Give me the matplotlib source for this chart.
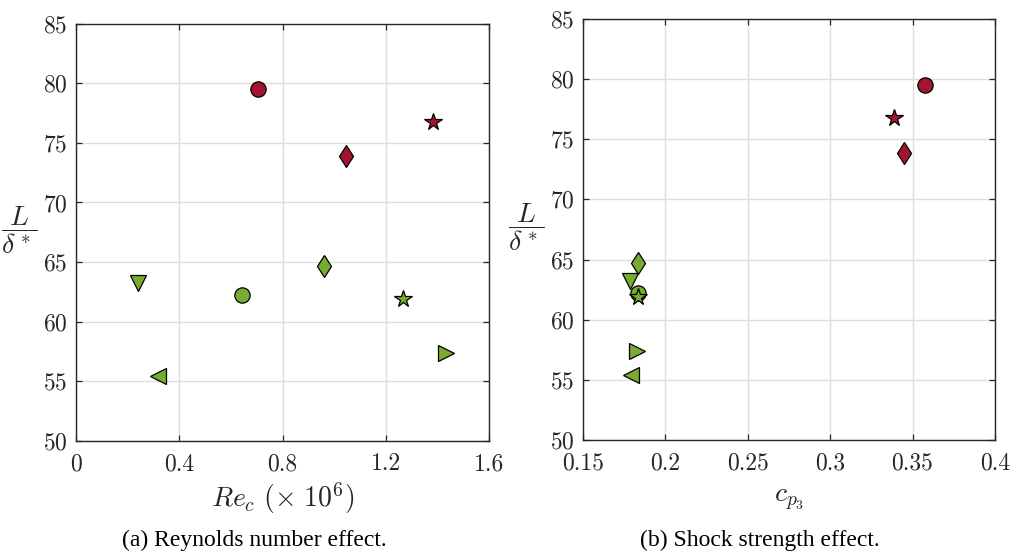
import matplotlib
matplotlib.use("Agg")
import matplotlib.pyplot as plt

plt.rcParams['font.family'] = 'serif'
plt.rcParams['font.serif'] = ['cmr10', 'DejaVu Serif']
plt.rcParams['mathtext.fontset'] = 'cm'
plt.rcParams['axes.formatter.use_mathtext'] = True

# markers per case: shape and group (red = strong shock, green = weak shock)
markers = ['o', '*', 'd', 'd', 'v', 'o', '*', '>', '<']
groups = ['r', 'r', 'r', 'g', 'g', 'g', 'g', 'g', 'g']
msizes = [11, 13, 11.5, 11.5, 11.5, 11, 13, 11.5, 11.5]

Re_c = [0.705, 1.383, 1.046, 0.961, 0.240, 0.643, 1.267, 1.434, 0.318]
cp3 = [0.3576, 0.3388, 0.3450, 0.1835, 0.1788, 0.1835, 0.1835, 0.1830, 0.1790]
L_delta = [79.5, 76.75, 73.9, 64.7, 63.2, 62.2, 61.9, 57.4, 55.4]

colors = {'r': '#A2142F', 'g': '#77AC30'}

xticks_a = [0, 0.4, 0.8, 1.2, 1.6]
xticks_b = [0.15, 0.2, 0.25, 0.3, 0.35, 0.4]
yticks = [50, 55, 60, 65, 70, 75, 80, 85]

fig = plt.figure(figsize=(10.2, 5.55), dpi=100)
ax1 = fig.add_axes([0.0745, 0.206, 0.405, 0.751])
ax2 = fig.add_axes([0.5713, 0.2072, 0.4042, 0.7586])


def style(ax, xs, xticks, xlim):
    for x, y, m, g, s in zip(xs, L_delta, markers, groups, msizes):
        ax.plot(x, y, marker=m, ms=s, mfc=colors[g], mec='black', mew=0.9,
                ls='none', zorder=3)
    ax.set_xlim(xlim)
    ax.set_ylim(50, 85)
    ax.set_xticks(xticks)
    ax.set_xticklabels(['%g' % t for t in xticks])
    ax.set_yticks(yticks)
    ax.grid(True, color='#dedede', lw=1.0, zorder=0)
    ax.set_axisbelow(True)
    ax.tick_params(direction='in', top=True, right=True, length=4,
                   width=0.9, color='#262626', labelsize=17,
                   labelcolor='#262626')
    ax.tick_params(axis='x', pad=9)
    ax.tick_params(axis='y', pad=6)
    for sp in ax.spines.values():
        sp.set_color('#262626')
        sp.set_linewidth(1.0)
    ax.set_ylabel(r'$\dfrac{L}{\delta^*}$', fontsize=20, rotation=0,
                  color='#262626', ha='center', va='center')
    ax.yaxis.set_label_coords(-0.137, 0.505)


style(ax1, Re_c, xticks_a, (0, 1.6))
style(ax2, cp3, xticks_b, (0.15, 0.4))

ax1.set_xlabel(r'$Re_c\ (\times\ 10^6)$', fontsize=20, color='#262626', labelpad=4)
ax2.set_xlabel(r'$c_{p_3}$', fontsize=20, color='#262626', labelpad=8)

fig.text(0.249, 0.027, '(a) Reynolds number effect.', family='Liberation Serif',
         fontsize=17, ha='center', va='center')
fig.text(0.745, 0.027, '(b) Shock strength effect.', family='Liberation Serif',
         fontsize=17, ha='center', va='center')

fig.savefig('out.png', dpi=100)
